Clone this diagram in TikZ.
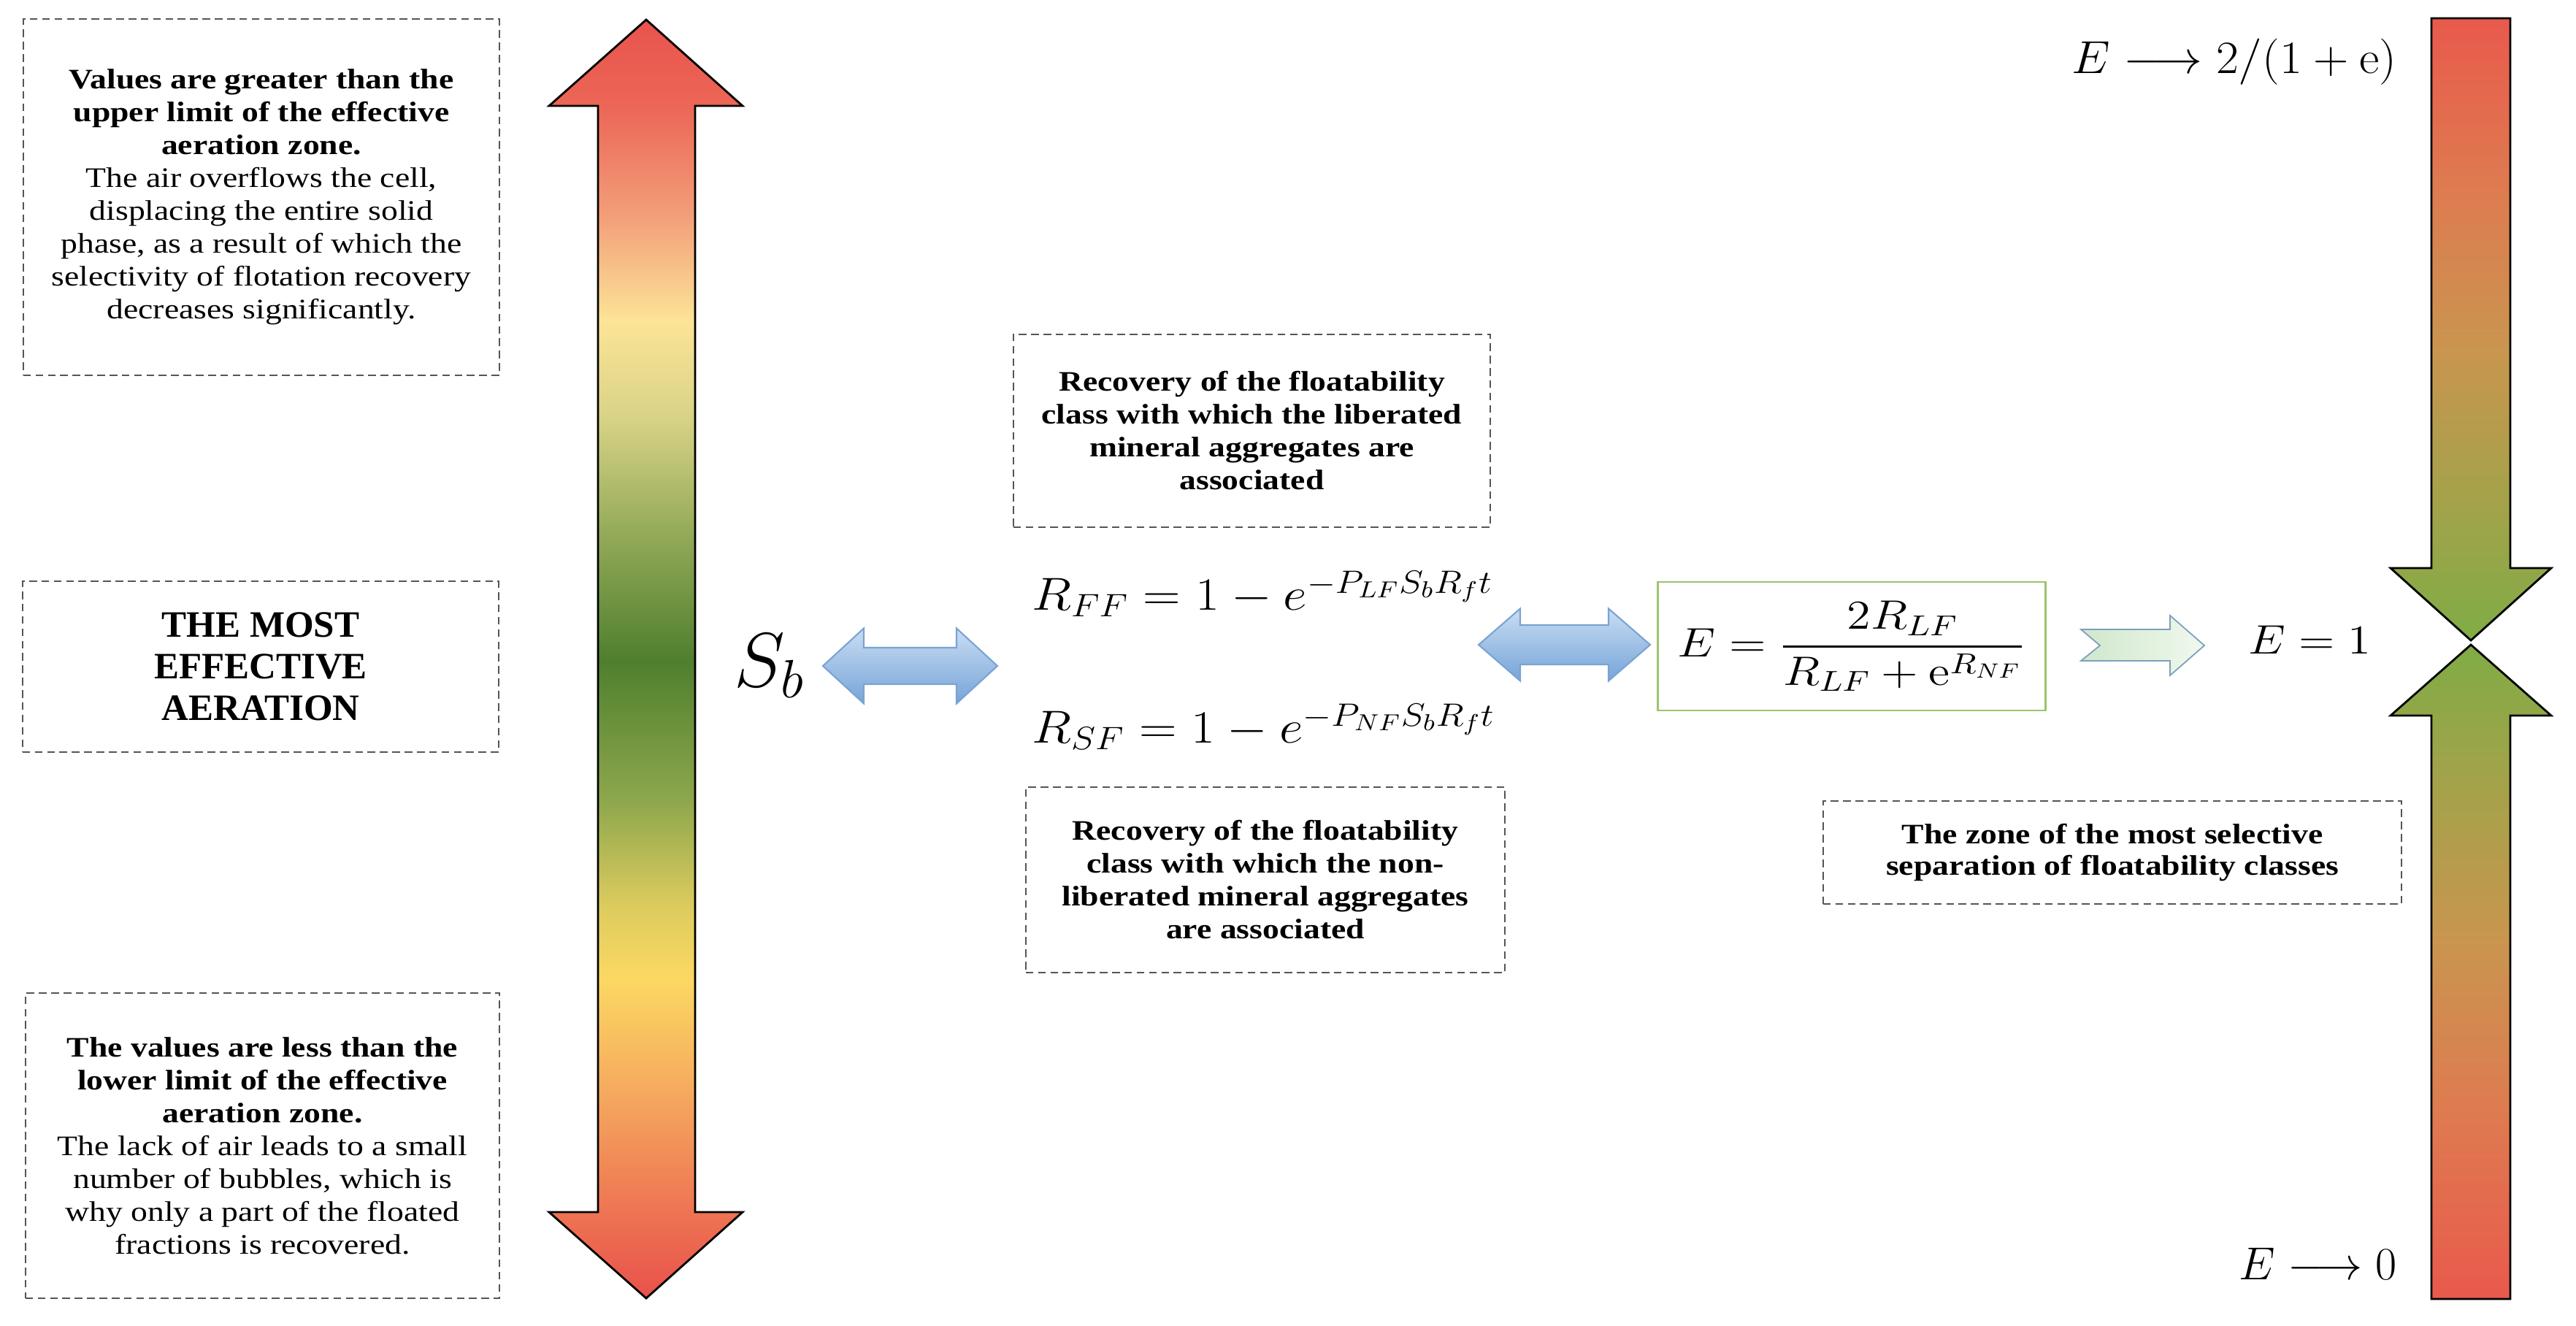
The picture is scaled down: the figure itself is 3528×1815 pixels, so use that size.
\documentclass[tikz,border=0pt]{standalone}
\usepackage{fix-cm}
\usepackage{graphicx}
\usepackage{amsmath}
\usepackage[no-math]{fontspec}
\setmainfont[FakeStretch=1.18]{Liberation Serif}
\newfontfamily\plainserif{Liberation Serif}
\definecolor{dashgray}{HTML}{555555}
\definecolor{boxgreen}{HTML}{9CC46C}
\definecolor{LA}{HTML}{E8524B}
\definecolor{LB}{HTML}{EC6757}
\definecolor{LC}{HTML}{F3A07A}
\definecolor{LD}{HTML}{FCE497}
\definecolor{LE}{HTML}{D9D387}
\definecolor{LF}{HTML}{98AD5C}
\definecolor{LG}{HTML}{4F7F2E}
\definecolor{LH}{HTML}{8FA84D}
\definecolor{LI}{HTML}{DCCB5E}
\definecolor{LJ}{HTML}{FCD862}
\definecolor{LK}{HTML}{F5A85E}
\definecolor{LL}{HTML}{EE7453}
\definecolor{LM}{HTML}{E84E4A}
\definecolor{RA}{HTML}{E9584C}
\definecolor{RB}{HTML}{DE7B50}
\definecolor{RC}{HTML}{C9954F}
\definecolor{RD}{HTML}{A5A24A}
\definecolor{RE}{HTML}{7FAC45}
\definecolor{bluetop}{HTML}{C9DDF3}
\definecolor{bluebot}{HTML}{76A4D8}
\definecolor{blueline}{HTML}{7AA3D2}
\definecolor{greenL}{HTML}{CFE8CB}
\definecolor{greenR}{HTML}{F0F8EE}
\definecolor{greenline}{HTML}{7E9FBE}
\tikzset{
  dbox/.style={draw=dashgray, dash pattern=on 3pt off 1.8pt, line width=0.5pt,
    align=center, inner sep=0pt, font=\fontsize{11}{12.8}\selectfont},
  bigarrow/.style={draw=black, line width=0.8pt},
  eqn/.style={inner sep=0pt, font=\fontsize{18}{22}\selectfont},
  bluearrow/.style={top color=bluetop, bottom color=bluebot, draw=blueline, line width=0.6pt},
}
\newcommand\LeftArrowPath{(885,27) -- (1017,145) -- (952,145) -- (952,1660) -- (1017,1660) -- (885,1778) -- (752,1660) -- (819,1660) -- (819,145) -- (752,145) -- cycle}
\newcommand\UpperRightPath{(3330,25) -- (3438,25) -- (3438,778) -- (3494,778) -- (3384,877) -- (3274,778) -- (3330,778) -- cycle}
\newcommand\LowerRightPath{(3384,883) -- (3494,980) -- (3438,980) -- (3438,1779) -- (3330,1779) -- (3330,980) -- (3274,980) -- cycle}
\begin{document}
\begin{tikzpicture}[x=0.01cm,y=-0.01cm]
\useasboundingbox (0,0) rectangle (3528,1815);
\fill[white] (0,0) rectangle (3528,1815);

% ---------- left big double arrow ----------
\begin{scope}
\clip \LeftArrowPath;
\foreach \ya/\ca/\yb/\cb in {20/LA/150/LB, 150/LB/300/LC, 300/LC/440/LD, 440/LD/570/LE, 570/LE/720/LF, 720/LF/905/LG, 905/LG/1100/LH, 1100/LH/1240/LI, 1240/LI/1340/LJ, 1340/LJ/1500/LK, 1500/LK/1660/LL, 1660/LL/1790/LM}
  \shade[top color=\ca, bottom color=\cb] (740,\ya-0.6) rectangle (1030,\yb);
\end{scope}
\draw[bigarrow] \LeftArrowPath;

% ---------- right converging arrows ----------
\begin{scope}
\clip \UpperRightPath;
\foreach \ya/\ca/\yb/\cb in {15/RA/260/RB, 260/RB/480/RC, 480/RC/680/RD, 680/RD/880/RE}
  \shade[top color=\ca, bottom color=\cb] (3260,\ya-0.6) rectangle (3510,\yb);
\end{scope}
\draw[bigarrow] \UpperRightPath;
\begin{scope}
\clip \LowerRightPath;
\foreach \ya/\ca/\yb/\cb in {880/RE/1080/RD, 1080/RD/1290/RC, 1290/RC/1520/RB, 1520/RB/1790/RA}
  \shade[top color=\ca, bottom color=\cb] (3260,\ya-0.6) rectangle (3510,\yb);
\end{scope}
\draw[bigarrow] \LowerRightPath;

% ---------- left text boxes ----------
\node[dbox, minimum width=6.52cm, minimum height=4.87cm] (upper) at (358,270) {%
\textbf{Values are greater than the}\\
\textbf{upper limit of the effective}\\
\textbf{aeration zone.}\\
The air overflows the cell,\\
displacing the entire solid\\
phase, as a result of which the\\
selectivity of flotation recovery\\
decreases significantly.};

\node[dbox, minimum width=6.52cm, minimum height=2.34cm, font=\plainserif\fontsize{14.5}{16.2}\selectfont\bfseries] (most) at (357,913) {THE MOST\\EFFECTIVE\\AERATION};

\node[dbox, minimum width=6.49cm, minimum height=4.18cm] (lower) at (359.5,1569) {%
\textbf{The values are less than the}\\
\textbf{lower limit of the effective}\\
\textbf{aeration zone.}\\
The lack of air leads to a small\\
number of bubbles, which is\\
why only a part of the floated\\
fractions is recovered.};

% ---------- middle ----------
\node[inner sep=0pt, anchor=base west, font=\fontsize{30}{33}\selectfont] (sb) at (1005,940) {$S_b$};

\shadedraw[bluearrow] (1127,912) -- (1183,860.5) -- (1183,887) -- (1310,887) -- (1310,860.5) -- (1366,912) -- (1310,963.5) -- (1310,937) -- (1183,937) -- (1183,963.5) -- cycle;

\node[dbox, font=\fontsize{11}{12.8}\selectfont\bfseries, minimum width=6.53cm, minimum height=2.64cm] (liber) at (1714.5,590) {Recovery of the floatability\\class with which the liberated\\mineral aggregates are\\associated};

\node[eqn, anchor=base west] (rff) at (1413,835) {\scalebox{1.13}[1]{$R_{FF} = 1 - e^{-P_{LF}S_bR_ft}$}};
\node[eqn, anchor=base west] (rsf) at (1413,1017) {\scalebox{1.13}[1]{$R_{SF} = 1 - e^{-P_{NF}S_bR_ft}$}};

\node[dbox, font=\fontsize{11}{12.8}\selectfont\bfseries, minimum width=6.56cm, minimum height=2.54cm] (nonlib) at (1733,1205) {Recovery of the floatability\\class with which the non-\\liberated mineral aggregates\\are associated};

\shadedraw[bluearrow] (2025,883) -- (2082,833.5) -- (2082,856) -- (2203,856) -- (2203,833.5) -- (2260,883) -- (2203,932.5) -- (2203,910) -- (2082,910) -- (2082,932.5) -- cycle;

% ---------- efficiency box ----------
\node[draw=boxgreen, line width=0.8pt, minimum width=5.30cm, minimum height=1.76cm, inner sep=0pt, font=\fontsize{16}{19}\selectfont] (eff) at (2536,885) {\scalebox{1.18}[1]{$E = \dfrac{2R_{LF}}{R_{LF} + \mathrm{e}^{R_{NF}}}$}};

\shadedraw[left color=greenL, right color=greenR, draw=greenline, line width=0.5pt] (2850,862) -- (2972,862) -- (2972,843) -- (3019,884) -- (2972,925) -- (2972,905) -- (2850,905) -- (2876,884) -- cycle;

\node[inner sep=0pt, anchor=base west, font=\fontsize{16}{19}\selectfont] (eone) at (3079,895) {\scalebox{1.15}[1]{$E = 1$}};

\node[dbox, font=\fontsize{11}{12.3}\selectfont\bfseries, minimum width=7.92cm, minimum height=1.41cm] (zone) at (2893,1167.5) {The zone of the most selective\\separation of floatability classes};

\node[inner sep=0pt, anchor=base east, font=\fontsize{18}{22}\selectfont] (etop) at (3283,100) {\scalebox{1.06}[1]{$E \longrightarrow 2/(1+\mathrm{e})$}};
\node[inner sep=0pt, anchor=base east, font=\fontsize{18}{22}\selectfont] (ezero) at (3283,1752) {$E \longrightarrow 0$};
\end{tikzpicture}
\end{document}
